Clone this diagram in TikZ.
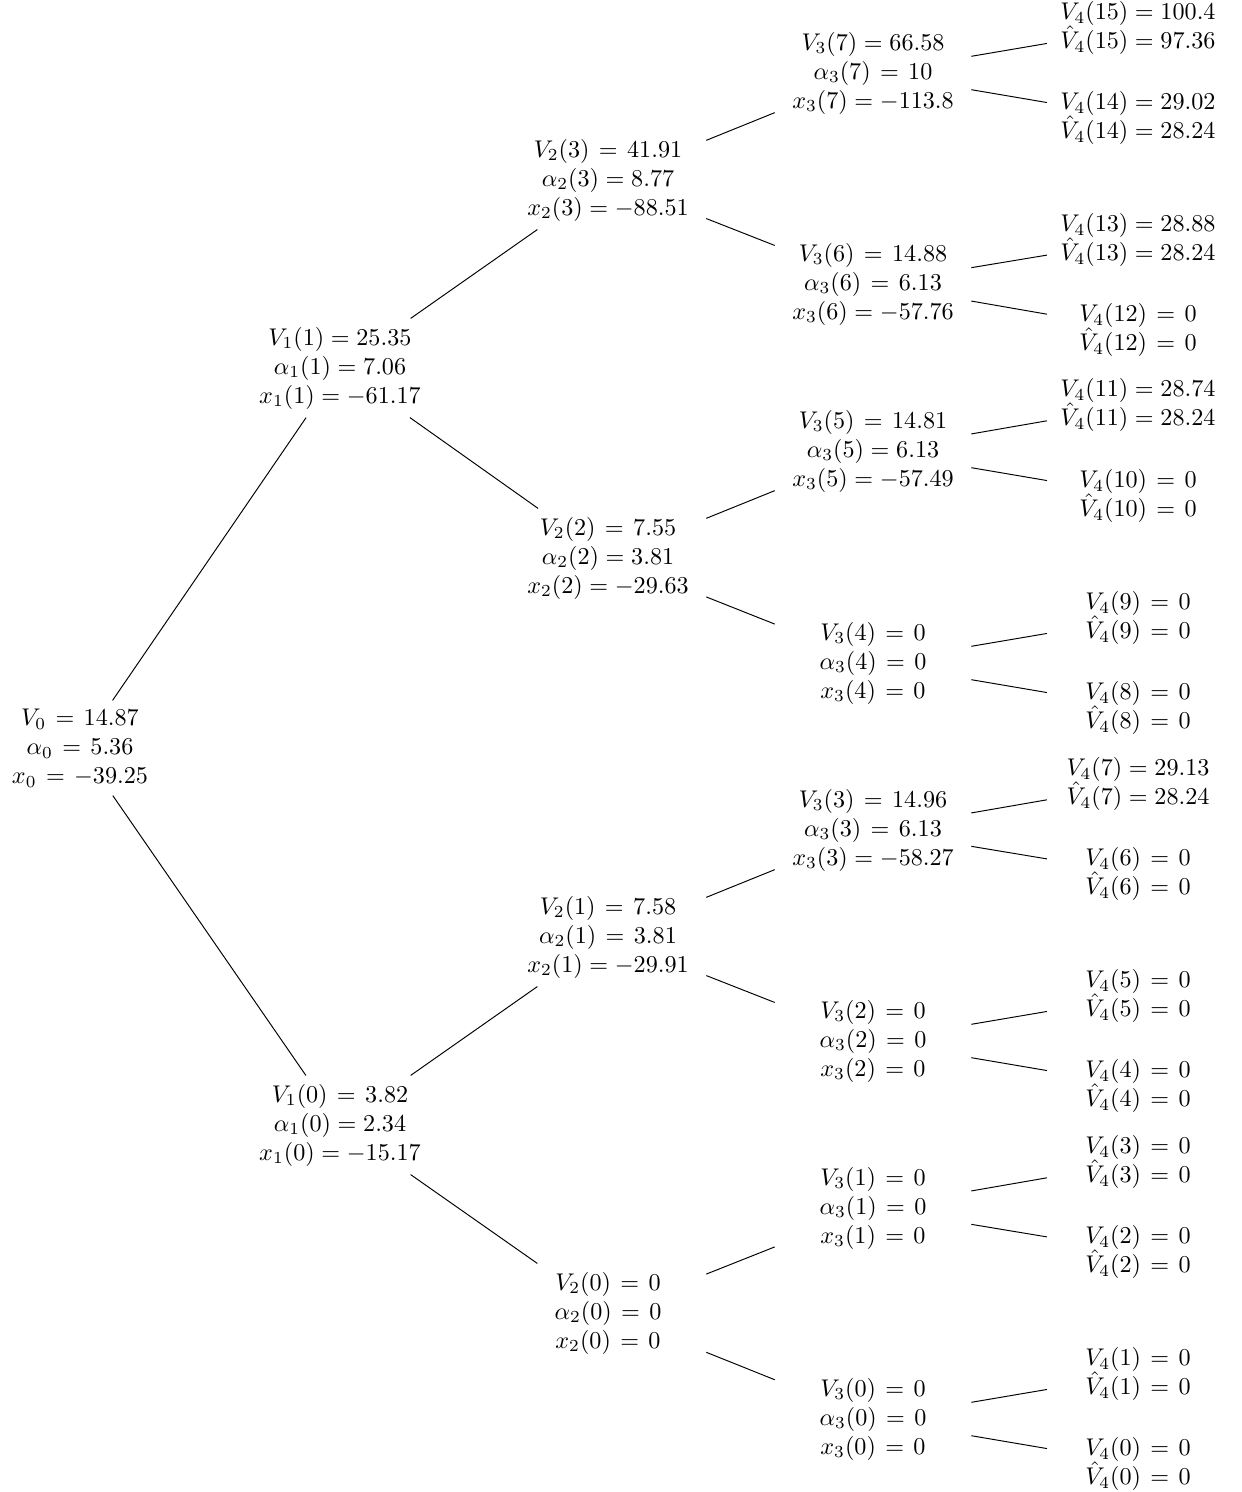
\documentclass[tikz,border=0pt]{standalone}
\newcommand{\eqw}{\mathrel{\mskip2mu=\mskip2mu}}
\begin{document}
\begin{tikzpicture}[x=0.414pt,y=-0.414pt,
  nd/.style={align=center, inner sep=3.33pt},
  lvA/.style={nd},
  lvB/.style={nd, minimum width=81pt},
  lvC/.style={nd, minimum width=75pt},
  edg/.style={line width=0.4pt}]
\useasboundingbox (0,0) rectangle (1241,1492);
% level 0
\node[lvA] (n0) at (80,748) {$V_0 \eqw 14.87$\\$\alpha_0 \eqw 5.36$\\$x_0 \eqw -39.25$};
% level 1
\node[lvA] (a1) at (340,368) {$V_1(1) = 25.35$\\$\alpha_1(1) = 7.06$\\$x_1(1) = -61.17$};
\node[lvA] (a0) at (340,1125) {$V_1(0) \eqw 3.82$\\$\alpha_1(0) = 2.34$\\$x_1(0) = -15.17$};
% level 2
\node[lvB] (b3) at (608,180) {$V_2(3) \eqw 41.91$\\$\alpha_2(3) = 8.77$\\$x_2(3) = -88.51$};
\node[lvB] (b2) at (608,558) {$V_2(2) \eqw 7.55$\\$\alpha_2(2) = 3.81$\\$x_2(2) = -29.63$};
\node[lvB] (b1) at (608,937) {$V_2(1) \eqw 7.58$\\$\alpha_2(1) \eqw 3.81$\\$x_2(1) = -29.91$};
\node[lvB] (b0) at (608,1313) {$V_2(0) \eqw 0$\\$\alpha_2(0) \eqw 0$\\$x_2(0) \eqw 0$};
% level 3
\node[lvB] (c7) at (873,73) {$V_3(7) = 66.58$\\$\alpha_3(7) \eqw 10$\\$x_3(7) = -113.8$};
\node[lvB] (c6) at (873,284) {$V_3(6) \eqw 14.88$\\$\alpha_3(6) \eqw 6.13$\\$x_3(6) = -57.76$};
\node[lvB] (c5) at (873,451) {$V_3(5) \eqw 14.81$\\$\alpha_3(5) = 6.13$\\$x_3(5) = -57.49$};
\node[lvB] (c4) at (873,663) {$V_3(4) \eqw 0$\\$\alpha_3(4) \eqw 0$\\$x_3(4) \eqw 0$};
\node[lvB] (c3) at (873,830) {$V_3(3) \eqw 14.96$\\$\alpha_3(3) \eqw 6.13$\\$x_3(3) = -58.27$};
\node[lvB] (c2) at (873,1041) {$V_3(2) \eqw 0$\\$\alpha_3(2) \eqw 0$\\$x_3(2) \eqw 0$};
\node[lvB] (c1) at (873,1208) {$V_3(1) \eqw 0$\\$\alpha_3(1) \eqw 0$\\$x_3(1) \eqw 0$};
\node[lvB] (c0) at (873,1419) {$V_3(0) \eqw 0$\\$\alpha_3(0) \eqw 0$\\$x_3(0) \eqw 0$};
% level 4
\node[lvC] (d15) at (1138,28) {$V_4(15) = 100.4$\\$\hat V_4(15) = 97.36$};
\node[lvC] (d14) at (1138,118) {$V_4(14) = 29.02$\\$\hat V_4(14) = 28.24$};
\node[lvC] (d13) at (1138,240) {$V_4(13) = 28.88$\\$\hat V_4(13) = 28.24$};
\node[lvC] (d12) at (1138,330) {$V_4(12) \eqw 0$\\$\hat V_4(12) \eqw 0$};
\node[lvC] (d11) at (1138,405) {$V_4(11) = 28.74$\\$\hat V_4(11) = 28.24$};
\node[lvC] (d10) at (1138,496) {$V_4(10) \eqw 0$\\$\hat V_4(10) \eqw 0$};
\node[lvC] (d9) at (1138,618) {$V_4(9) \eqw 0$\\$\hat V_4(9) \eqw 0$};
\node[lvC] (d8) at (1138,708) {$V_4(8) \eqw 0$\\$\hat V_4(8) \eqw 0$};
\node[lvC] (d7) at (1138,784) {$V_4(7) = 29.13$\\$\hat V_4(7) = 28.24$};
\node[lvC] (d6) at (1138,874) {$V_4(6) \eqw 0$\\$\hat V_4(6) \eqw 0$};
\node[lvC] (d5) at (1138,996) {$V_4(5) \eqw 0$\\$\hat V_4(5) \eqw 0$};
\node[lvC] (d4) at (1138,1086) {$V_4(4) \eqw 0$\\$\hat V_4(4) \eqw 0$};
\node[lvC] (d3) at (1138,1162) {$V_4(3) \eqw 0$\\$\hat V_4(3) \eqw 0$};
\node[lvC] (d2) at (1138,1252) {$V_4(2) \eqw 0$\\$\hat V_4(2) \eqw 0$};
\node[lvC] (d1) at (1138,1374) {$V_4(1) \eqw 0$\\$\hat V_4(1) \eqw 0$};
\node[lvC] (d0) at (1138,1464) {$V_4(0) \eqw 0$\\$\hat V_4(0) \eqw 0$};
% edges
\draw[edg] (n0) -- (a1);
\draw[edg] (n0) -- (a0);
\draw[edg] (a1) -- (b3);
\draw[edg] (a1) -- (b2);
\draw[edg] (a0) -- (b1);
\draw[edg] (a0) -- (b0);
\draw[edg] (b3) -- (c7);
\draw[edg] (b3) -- (c6);
\draw[edg] (b2) -- (c5);
\draw[edg] (b2) -- (c4);
\draw[edg] (b1) -- (c3);
\draw[edg] (b1) -- (c2);
\draw[edg] (b0) -- (c1);
\draw[edg] (b0) -- (c0);
\draw[edg] (c7) -- (d15);
\draw[edg] (c7) -- (d14);
\draw[edg] (c6) -- (d13);
\draw[edg] (c6) -- (d12);
\draw[edg] (c5) -- (d11);
\draw[edg] (c5) -- (d10);
\draw[edg] (c4) -- (d9);
\draw[edg] (c4) -- (d8);
\draw[edg] (c3) -- (d7);
\draw[edg] (c3) -- (d6);
\draw[edg] (c2) -- (d5);
\draw[edg] (c2) -- (d4);
\draw[edg] (c1) -- (d3);
\draw[edg] (c1) -- (d2);
\draw[edg] (c0) -- (d1);
\draw[edg] (c0) -- (d0);
\end{tikzpicture}
\end{document}
